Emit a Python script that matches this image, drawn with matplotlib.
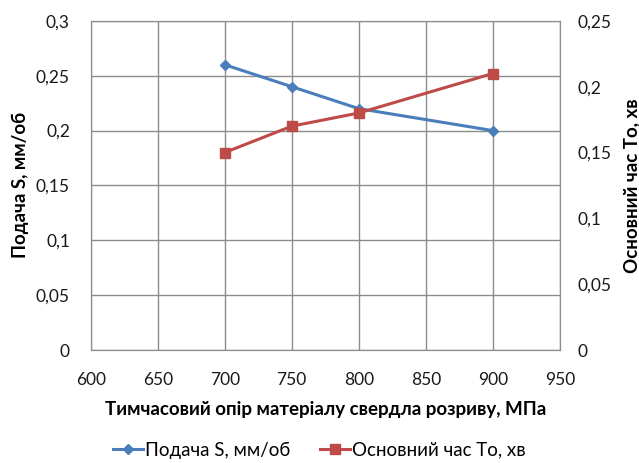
import matplotlib
matplotlib.use("Agg")
import matplotlib.pyplot as plt
from matplotlib.ticker import FuncFormatter

x = [700, 750, 800, 900]
feed = [0.26, 0.24, 0.22, 0.20]
main_time = [0.15, 0.17, 0.18, 0.21]

xlabel = "Тимчасовий опір матеріалу свердла розриву, МПа"
ylabel_left = "Подача S, мм/об"
ylabel_right = "Основний час То, хв"
label_feed = "Подача S, мм/об"
label_time = "Основний час То, хв"

plt.rcParams['font.family'] = ['Lato', 'DejaVu Sans']

fig = plt.figure(figsize=(6.39, 4.63), dpi=100)
ax = fig.add_axes([0.142, 0.244, 0.734, 0.711])
ax2 = ax.twinx()

blue = '#4A7EBB'
red = '#BE4B48'
grid = '#8C8C8C'

l1, = ax.plot(x, feed, color=blue, lw=2.2, marker='D', ms=5, label=label_feed, zorder=3)
l2, = ax2.plot(x, main_time, color=red, lw=2.2, marker='s', ms=7, label=label_time, zorder=3)

ax.set_xlim(600, 950)
ax.set_ylim(0, 0.3)
ax2.set_ylim(0, 0.25)
ax.set_xticks(range(600, 951, 50))
ax.set_yticks([0, 0.05, 0.1, 0.15, 0.2, 0.25, 0.3])
ax2.set_yticks([0, 0.05, 0.1, 0.15, 0.2, 0.25])

fmt = FuncFormatter(lambda v, p: ('%g' % round(v, 3)).replace('.', ','))
ax.yaxis.set_major_formatter(fmt)
ax2.yaxis.set_major_formatter(fmt)

ax.grid(True, color=grid, lw=1)
for a in (ax, ax2):
    for s in a.spines.values():
        s.set_color(grid)
    a.tick_params(length=0, labelsize=12.5, colors='#1a1a1a')
ax.tick_params(axis='x', pad=16)
ax.tick_params(axis='y', pad=15)
ax2.tick_params(axis='y', pad=13)

ax.set_xlabel(xlabel, fontsize=13.5, fontweight='bold', labelpad=9)
ax.set_ylabel(ylabel_left, fontsize=13.5, fontweight='bold', labelpad=5)
ax2.set_ylabel(ylabel_right, fontsize=13.5, fontweight='bold', labelpad=8)

fig.legend(handles=[l1, l2], loc='center', bbox_to_anchor=(0.5, 0.028), ncol=2,
           frameon=False, fontsize=13.5, handlelength=1.6, handletextpad=0.1,
           columnspacing=1.6)

fig.savefig('out.png', dpi=100)
